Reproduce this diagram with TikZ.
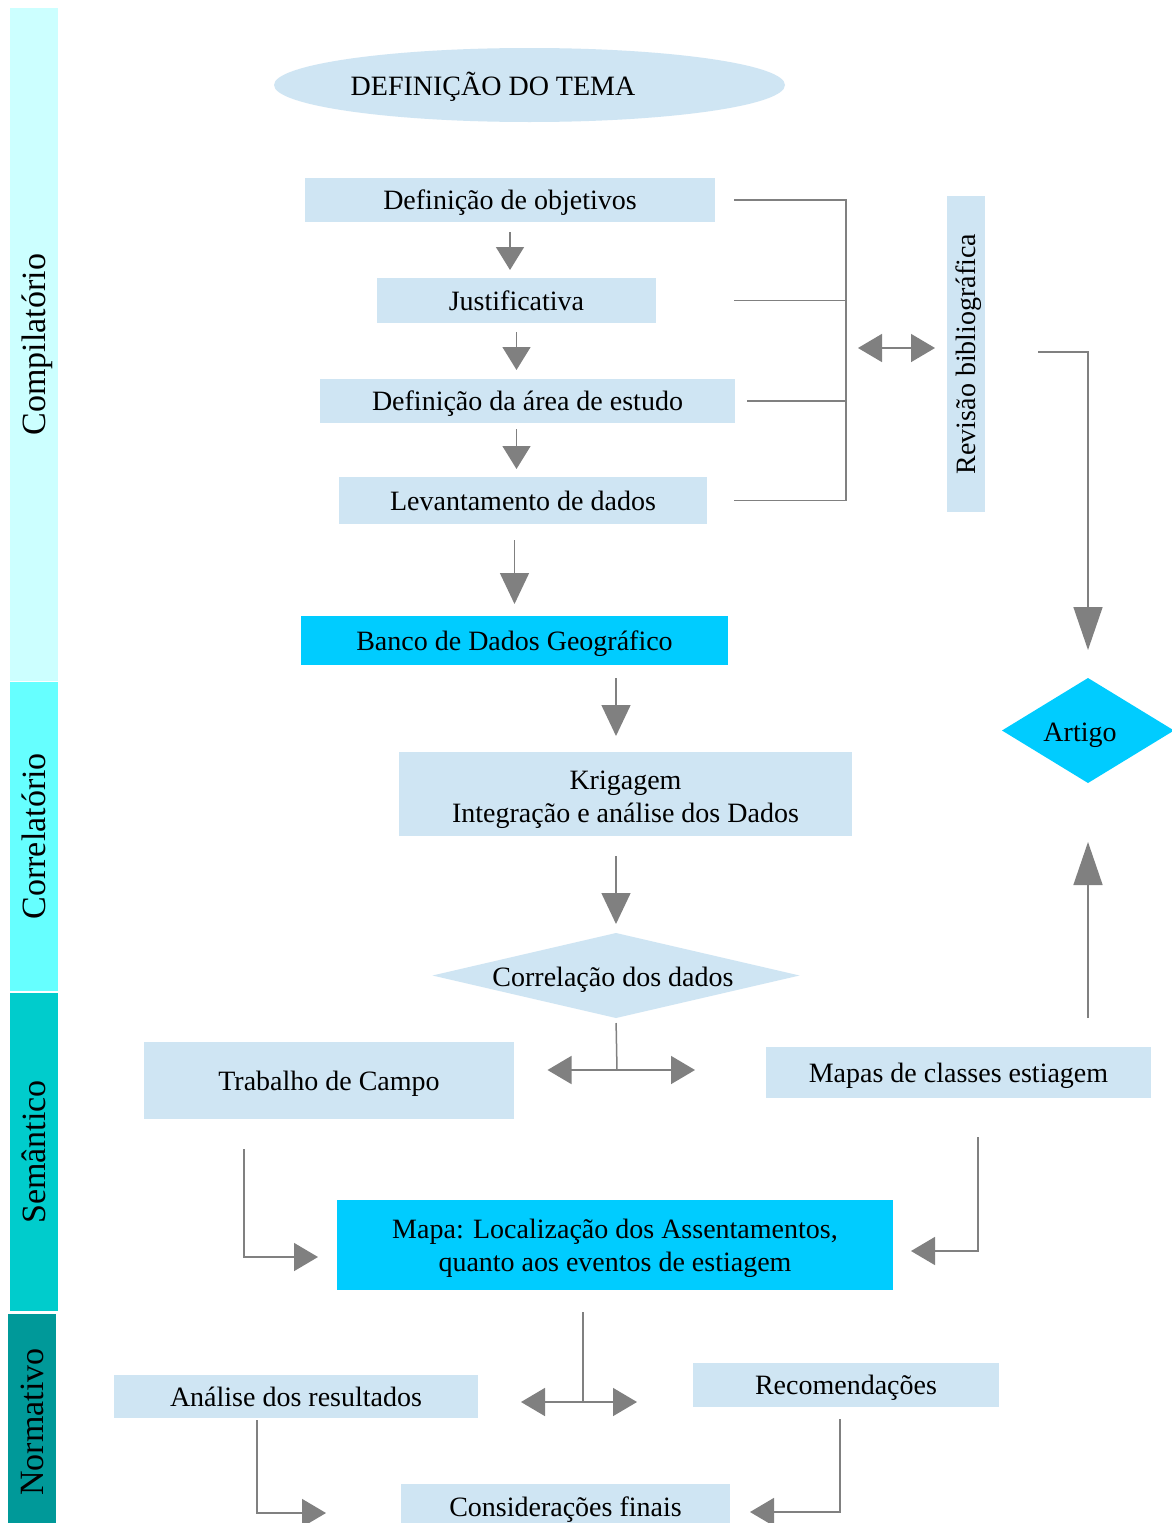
\documentclass[tikz,border=0pt]{standalone}
\usepackage{fontspec}
\setmainfont{Liberation Serif}
\usetikzlibrary{arrows.meta,shapes.geometric}
\definecolor{lb}{RGB}{207,229,243}
\definecolor{cy}{RGB}{0,204,255}
\definecolor{bandA}{RGB}{204,255,255}
\definecolor{bandB}{RGB}{102,255,255}
\definecolor{bandC}{RGB}{0,204,204}
\definecolor{bandD}{RGB}{0,153,153}
\definecolor{ag}{RGB}{128,128,128}
\newcommand\bodyfs{\fontsize{28}{33}\selectfont}
\newcommand\bandfs{\fontsize{34}{40}\selectfont}
\begin{document}
\begin{tikzpicture}[x=1pt,y=-1pt,
  every node/.style={inner sep=0pt, outer sep=0pt},
  box/.style={rectangle, fill=lb, font=\bodyfs, align=center},
  onebox/.style={box, text height=19pt, text depth=0pt},
  cbox/.style={fill=cy},
  band/.style={rectangle, rotate=90, font=\bandfs, text height=23pt, text depth=0pt},
  txt/.style={font=\bodyfs, text height=19pt, text depth=0pt},
  ln/.style={draw=ag, line width=1.5pt},
  arrS/.style={ln, -{Triangle[length=23pt,width=28pt]}},
  arrB/.style={ln, -{Triangle[length=31pt,width=29pt]}},
  arrL/.style={ln, -{Triangle[length=43pt,width=29pt]}},
  arrE/.style={ln, -{Triangle[length=24pt,width=28pt]}},
  arrD/.style={ln, {Triangle[length=24pt,width=28pt]}-{Triangle[length=24pt,width=28pt]}},
]
\useasboundingbox[fill=white] (0,0) rectangle (1171,1523);

% phase bands
\node[band, fill=bandA, minimum width=673pt, minimum height=47.5pt] (bcomp) at (33.75,344.5) {Compilatório};
\node[band, fill=bandB, minimum width=308.5pt, minimum height=47.5pt] (bcorr) at (33.75,836.25) {Correlatório};
\node[band, fill=bandC, minimum width=318pt, minimum height=47.5pt] (bsem) at (33.75,1152) {Semântico};
\node[band, fill=bandD, minimum width=216pt, minimum height=48pt] (bnorm) at (32,1422) {Normativo};

% theme
\node[ellipse, fill=lb, minimum width=511pt, minimum height=74pt] (tema) at (529.5,85) {};
\node[txt] (tematxt) at (493,85.5) {DEFINIÇÃO DO TEMA};

% compilation steps
\node[onebox, minimum width=410pt, minimum height=44pt] (obj) at (510,200) {Definição de objetivos};
\node[onebox, minimum width=279pt, minimum height=45pt] (just) at (516.5,300.5) {Justificativa};
\node[onebox, minimum width=415pt, minimum height=44pt] (area) at (527.5,401) {Definição da área de estudo};
\node[onebox, minimum width=368pt, minimum height=47pt] (lev) at (523,500.5) {Levantamento de dados};
\node[onebox, rotate=90, minimum width=316pt, minimum height=38pt] (rev) at (966,354) {Revisão bibliográfica};

\node[onebox, cbox, minimum width=427pt, minimum height=49pt] (ban) at (514.5,640.5) {Banco de Dados Geográfico};
\node[box, minimum width=453pt, minimum height=84pt] (krig) at (625.5,794) {\rule{0pt}{30.5pt}Krigagem\\Integração e análise dos Dados};
\node[diamond, fill=lb, minimum width=367pt, minimum height=85pt] (cor) at (616,975.5) {};
\node[txt] (cortxt) at (613,976.5) {Correlação dos dados};
\node[diamond, fill=cy, minimum width=172pt, minimum height=105pt] (art) at (1088,730.5) {};
\node[txt] (arttxt) at (1080,731.5) {Artigo};

\node[onebox, minimum width=370pt, minimum height=77pt] (trab) at (329,1080.5) {Trabalho de Campo};
\node[onebox, minimum width=385pt, minimum height=51pt] (mapas) at (958.5,1072.5) {Mapas de classes estiagem};
\node[box, cbox, minimum width=556pt, minimum height=90pt] (mapa) at (615,1245) {\rule{0pt}{26pt}Mapa: Localização dos Assentamentos,\\quanto aos eventos de estiagem};

\node[onebox, minimum width=364pt, minimum height=43pt] (anal) at (296,1396.5) {Análise dos resultados};
\node[onebox, minimum width=306pt, minimum height=44pt] (rec) at (846,1385) {Recomendações};
\node[onebox, minimum width=329pt, minimum height=46pt] (cons) at (565.5,1507) {Considerações finais};

% vertical flow arrows
\draw[arrS, shorten <=10pt, shorten >=8pt] (obj.south) -- (obj.south |- just.north);
\draw[arrS, shorten <=9pt, shorten >=9pt] (just.south) -- (just.south |- area.north);
\draw[arrS, shorten <=6pt, shorten >=8pt] (area.south -| just.south) -- (lev.north -| just.south);
\draw[arrB, shorten <=16pt, shorten >=12pt] (lev.south -| ban.north) -- (ban.north);
\draw[arrB, shorten <=13pt, shorten >=16pt] (ban.south -| cor.north) -- (krig.north -| cor.north);
\draw[arrB, shorten <=20pt, shorten >=9pt] (krig.south -| cor.north) -- (cor.north);

% bracket to bibliographic review
\coordinate (b1) at ([xshift=19pt]obj.east);
\coordinate (b2) at ([xshift=78pt]just.east);
\coordinate (b3) at ([xshift=12pt]area.east);
\coordinate (b4) at ([xshift=27pt]lev.east);
\coordinate (bx) at (846,348);
\draw[ln] (b1) -| (bx |- b4) -- (b4);
\draw[ln] (b2) -- (bx |- b2);
\draw[ln] (b3) -- (bx |- b3);
\draw[arrD, shorten <=12pt, shorten >=12pt] (bx) -- (bx -| rev.north);

% review -> article, maps -> article
\draw[arrL, shorten >=28pt] ([xshift=53pt,yshift=2pt]rev.south) -| (art.north);
\draw[arrL, shorten <=29pt, shorten >=59pt] (mapas.north -| art.south) -- (art.south);

% correlation split
\coordinate (j1) at (617,1070);
\coordinate (t1) at ([xshift=33.5pt]trab.east);
\coordinate (t2) at ([xshift=-71pt]mapas.west);
\draw[ln, shorten <=5pt] (cor.south) -- (j1);
\draw[arrD] (t1 |- j1) -- (t2 |- j1);

% into the map
\draw[arrE, shorten <=30pt, shorten >=19pt] ([xshift=-85pt]trab.south) |- ([yshift=-12pt]mapa.west);
\draw[arrE, shorten <=39pt, shorten >=18pt] ([xshift=19.5pt]mapas.south) |- ([yshift=-6pt]mapa.east);

% map split
\coordinate (j2) at (583,1402);
\coordinate (t3) at ([xshift=43pt]anal.east);
\coordinate (t4) at ([xshift=-56pt]rec.west);
\draw[ln, shorten <=22pt] (mapa.south -| j2) -- (j2);
\draw[arrD] (t3 |- j2) -- (t4 |- j2);

% to final considerations
\draw[arrE, shorten <=2pt, shorten >=75pt] ([xshift=-39pt]anal.south) |- ([yshift=-6pt]cons.west);
\draw[arrE, shorten <=12pt, shorten >=20pt] ([xshift=-6pt]rec.south) |- ([yshift=-5pt]cons.east);
\end{tikzpicture}
\end{document}
